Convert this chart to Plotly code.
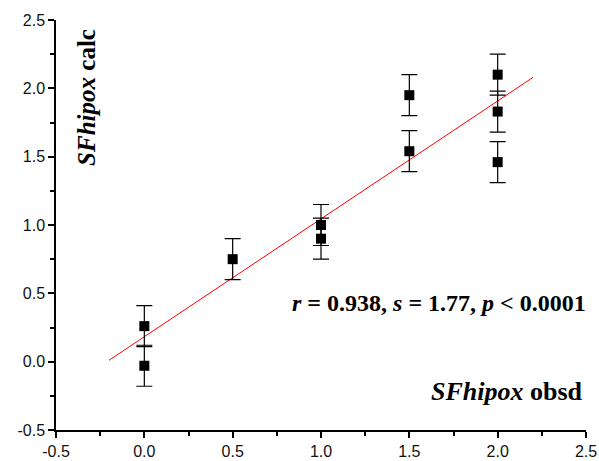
import plotly.graph_objects as go

obs_x = [0.0, 0.0, 0.5, 1.0, 1.0, 1.5, 1.5, 2.0, 2.0, 2.0]
calc_y = [0.26, -0.03, 0.75, 1.00, 0.90, 1.95, 1.54, 2.10, 1.83, 1.46]
err_y = [0.15, 0.15, 0.15, 0.15, 0.15, 0.15, 0.15, 0.15, 0.15, 0.15]
fit_x = [-0.2, 2.2]
fit_y = [0.01, 2.08]
tick_vals = [-0.5, 0.0, 0.5, 1.0, 1.5, 2.0, 2.5]
tick_text = ["-0.5", "0.0", "0.5", "1.0", "1.5", "2.0", "2.5"]

fig = go.Figure()
fig.add_trace(go.Scatter(x=fit_x, y=fit_y, mode="lines",
                         line=dict(color="#ff0000", width=1), showlegend=False))
fig.add_trace(go.Scatter(x=obs_x, y=calc_y, mode="markers",
                         marker=dict(symbol="square", size=10, color="black"),
                         error_y=dict(type="data", array=err_y, color="black",
                                      thickness=1.2, width=8),
                         showlegend=False))

axis_common = dict(showgrid=False, zeroline=False, showline=True, linecolor="black",
                   linewidth=1.5, ticks="outside", ticklen=6, tickwidth=1.5,
                   tickcolor="black", tickvals=tick_vals, ticktext=tick_text,
                   tickfont=dict(family="Liberation Sans, Arial", size=16, color="#111"),
                   minor=dict(ticks="outside", ticklen=4, tickwidth=1.5,
                              tickcolor="black", dtick=0.25, showgrid=False),
                   mirror=False, automargin=False)

fig.update_xaxes(range=[-0.5, 2.5], **axis_common)
fig.update_yaxes(range=[-0.5, 2.5], **axis_common)

serif = "Liberation Serif, Times New Roman, serif"
fig.add_annotation(xref="paper", yref="paper", x=0.0585, y=0.81,
                   xanchor="center", yanchor="middle",
                   text="<b><i>SFhipox</i> calc</b>", showarrow=False,
                   textangle=-90, font=dict(family=serif, size=25, color="black"))
fig.add_annotation(xref="paper", yref="paper", x=1.004, y=0.31,
                   xanchor="right", yanchor="middle",
                   text="<b><i>r</i> = 0.938, <i>s</i> = 1.77, <i>p</i> &lt; 0.0001</b>",
                   showarrow=False, font=dict(family=serif, size=24, color="black"))
fig.add_annotation(xref="paper", yref="paper", x=0.998, y=0.093,
                   xanchor="right", yanchor="middle",
                   text="<b><i>SFhipox</i> obsd</b>", showarrow=False,
                   font=dict(family=serif, size=26, color="black"))

fig.update_layout(width=599, height=461, plot_bgcolor="white", paper_bgcolor="white",
                  margin=dict(l=56, r=13, t=20, b=31, autoexpand=False))

fig.write_html("out.html", config={"displayModeBar": False},
               post_script="document.body.style.margin='0';document.body.style.overflow='hidden';")
